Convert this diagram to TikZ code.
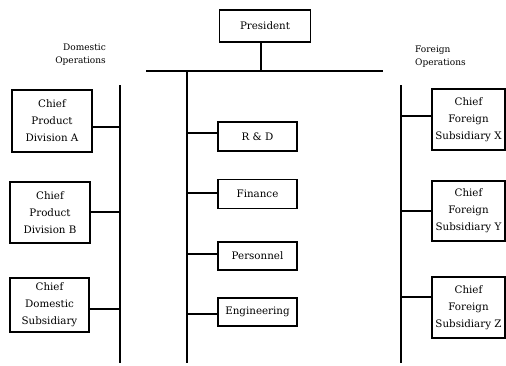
\documentclass[tikz,border=0pt]{standalone}
\usepackage{fontspec}
\setmainfont{DejaVu Serif}
\begin{document}
\begin{tikzpicture}[x=1pt,y=-1pt,
  box/.style={draw, line width=1.2pt, align=center, inner sep=0pt,
    font=\fontsize{10.3}{17}\selectfont},
  lbl/.style={align=center, inner sep=0pt, font=\fontsize{9}{12.5}\selectfont},
  vline/.style={line width=1.6pt},
  conn/.style={line width=1.3pt}]
\useasboundingbox (0,0) rectangle (506,365);
% President
\node[box, minimum width=91pt, minimum height=32pt] (pres) at (265,26) {President};
\coordinate (hl) at (146,71);
\coordinate (hr) at (383,71);
\draw[vline] (hl) -- (hr);
\draw[vline] (pres.south -| 261,0) -- (261,71);
% vertical lines
\coordinate (dtop) at (120,85);
\coordinate (dbot) at (120,363);
\coordinate (ctop) at (187,71);
\coordinate (cbot) at (187,363);
\coordinate (ftop) at (401,85);
\coordinate (fbot) at (401,363);
\draw[vline] (dtop) -- (dbot);
\draw[vline] (ctop) -- (cbot);
\draw[vline] (ftop) -- (fbot);
% labels
\node[lbl, align=right, anchor=north east] (dom) at (106,44) {Domestic\\Operations};
\node[lbl, align=left, anchor=north west] (for) at (415,46) {Foreign\\Operations};
% domestic boxes
\node[box, minimum width=80pt, minimum height=62pt] (A) at (52,121) {Chief\\Product\\Division A};
\node[box, minimum width=80pt, minimum height=61pt] (B) at (50,212.5) {Chief\\Product\\Division B};
\node[box, minimum width=79pt, minimum height=54pt] (C) at (49.5,305) {Chief\\Domestic\\Subsidiary};
% staff boxes
\node[box, minimum width=79pt, minimum height=29pt] (RD) at (257.5,136.5) {R \& D};
\node[box, minimum width=79pt, minimum height=29pt] (FI) at (257.5,194) {Finance};
\node[box, minimum width=79pt, minimum height=28pt] (PE) at (257.5,256) {Personnel};
\node[box, minimum width=79pt, minimum height=28pt] (EN) at (257.5,312) {Engineering};
% foreign boxes
\node[box, minimum width=73pt, minimum height=61pt] (X) at (468.5,119.5) {Chief\\Foreign\\Subsidiary X};
\node[box, minimum width=73pt, minimum height=60pt] (Y) at (468.5,211) {Chief\\Foreign\\Subsidiary Y};
\node[box, minimum width=73pt, minimum height=61pt] (Z) at (468.5,307.5) {Chief\\Foreign\\Subsidiary Z};
% connectors
\draw[conn] (A.east |- 0,127) -- (dtop |- 0,127);
\draw[conn] (B.east |- 0,212) -- (dtop |- 0,212);
\draw[conn] (C.east |- 0,309) -- (dtop |- 0,309);
\draw[conn] (RD.west |- 0,133) -- (ctop |- 0,133);
\draw[conn] (FI.west |- 0,193) -- (ctop |- 0,193);
\draw[conn] (PE.west |- 0,254) -- (ctop |- 0,254);
\draw[conn] (EN.west |- 0,314) -- (ctop |- 0,314);
\draw[conn] (X.west |- 0,116) -- (ftop |- 0,116);
\draw[conn] (Y.west |- 0,211) -- (ftop |- 0,211);
\draw[conn] (Z.west |- 0,297) -- (ftop |- 0,297);
\end{tikzpicture}
\end{document}
